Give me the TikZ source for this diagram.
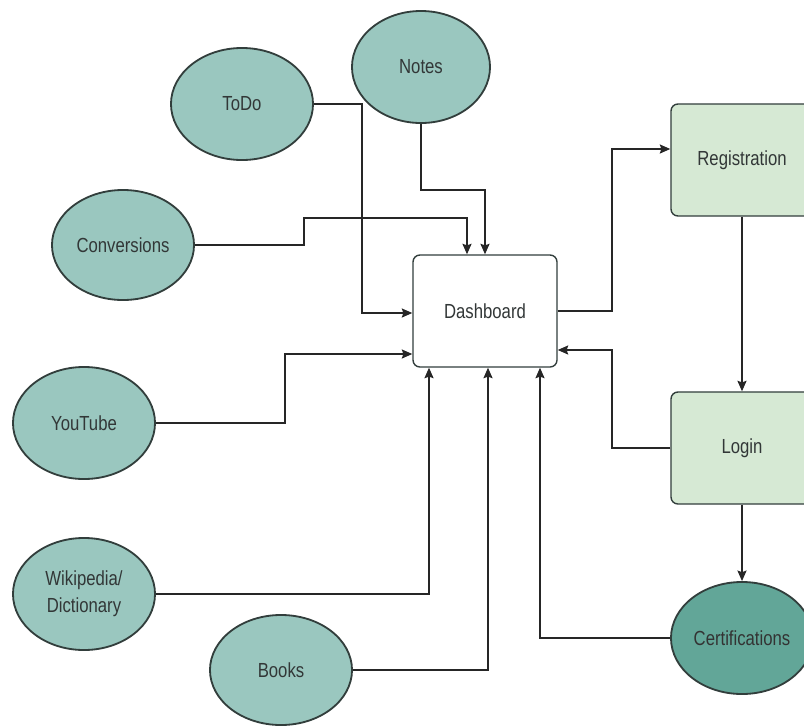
\documentclass[tikz,border=0pt]{standalone}
\usepackage{fontspec}
\setmainfont{Liberation Sans}[FakeStretch=0.82]
\usepackage{tikz}
\usetikzlibrary{shapes.geometric,arrows.meta}

\definecolor{tealfill}{RGB}{154,199,191}
\definecolor{certfill}{RGB}{98,166,152}
\definecolor{boxfill}{RGB}{214,233,212}
\definecolor{rim}{RGB}{50,62,60}
\definecolor{txt}{RGB}{50,55,55}

\begin{document}
\begin{tikzpicture}[x=0.025cm,y=-0.025cm,
	every node/.style={font=\fontsize{14.5}{19}\selectfont,text=txt,align=center},
	bubble/.style={shape=ellipse,draw=rim,line width=1.3pt,fill=tealfill,
		minimum width=3.55cm,minimum height=2.8cm,inner sep=0pt},
	panel/.style={shape=rectangle,rounded corners=5pt,draw=rim,line width=1pt,
		minimum width=3.6cm,minimum height=2.8cm,inner sep=0pt},
	flow/.style={draw=black!85,line width=1pt,-{Stealth[length=7.5pt,width=6.5pt,inset=1.2pt]}}]
	\useasboundingbox (0,0) rectangle (804,725);
	\node[bubble] (todo) at (242,104) {ToDo};
	\node[bubble,minimum width=3.45cm] (notes) at (421,67) {Notes};
	\node[bubble,minimum height=2.75cm] (conv) at (123,245) {Conversions};
	\node[bubble] (yt) at (84,423) {YouTube};
	\node[bubble] (wiki) at (84,594) {Wikipedia/\\Dictionary};
	\node[bubble,minimum height=2.75cm] (books) at (281,670) {Books};
	\node[bubble,fill=certfill,text=black!80] (cert) at (742,638) {Certifications};
	\node[panel,fill=white] (dash) at (485,311) {Dashboard};
	\node[panel,fill=boxfill,minimum width=3.55cm] (reg) at (742,160) {Registration};
	\node[panel,fill=boxfill,minimum width=3.55cm] (login) at (742,448) {Login};
	% bends of the connectors
	\coordinate (t1) at (362,313);
	\coordinate (n1) at (485,190);
	\coordinate (c1) at (304,218);
	\coordinate (c2) at (467,218);
	\coordinate (y1) at (285,354);
	\coordinate (w1) at (429,594);
	\coordinate (k1) at (488,670);
	\coordinate (e1) at (540,638);
	\coordinate (r1) at (612,311);
	\coordinate (r2) at (612,149);
	\coordinate (l1) at (612,350);
	\path [flow] (todo.east) -| (t1) -- (t1 -| dash.west);
	\path [flow] (notes.south) |- (n1) -- (dash.north);
	\path [flow] (conv.east) -| (c1) -- (c2) -- (c2 |- dash.north);
	\path [flow] (yt.east) -| (y1) -- (y1 -| dash.west);
	\path [flow] (wiki.east) -- (w1) -- (w1 |- dash.south);
	\path [flow] (books.east) -- (k1) -- (k1 |- dash.south);
	\path [flow] (cert.west) -- (e1) -- (e1 |- dash.south);
	\path [flow] (dash.east) -- (r1) -- (r2) -- (r2 -| reg.west);
	\path [flow] (reg.south) -- (login.north);
	\path [flow] (login.west) -| (l1) -- (l1 -| dash.east);
	\path [flow] (login.south) -- (cert.north);
\end{tikzpicture}
\end{document}
